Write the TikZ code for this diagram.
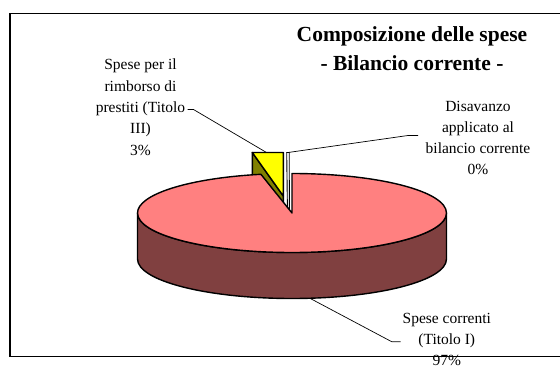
\documentclass[tikz,border=0pt]{standalone}
\usepackage{fontspec}
\setmainfont{Liberation Serif}
\definecolor{piepink}{HTML}{FF8080}
\definecolor{pieside}{HTML}{804040}
\definecolor{wedgeyellow}{HTML}{FFFF00}
\definecolor{wedgeolive}{HTML}{808000}
\begin{document}
\begin{tikzpicture}[x=1pt,y=1pt,
  outline/.style={draw=black,line width=1.4pt,line join=round},
  leader/.style={draw=black,line width=0.7pt},
  lbl/.style={anchor=base,inner sep=0pt,font=\fontsize{15.5}{21.3}\selectfont},
  ttl/.style={anchor=base,inner sep=0pt,font=\fontsize{21.5}{28.3}\selectfont\bfseries}]
\useasboundingbox (0,0) rectangle (560,365);
\fill[white] (0,0) rectangle (560,365);
% frame
\draw[line width=1.2pt] (10,351.7) -- (570,351.7) (10,351.7) -- (10,8.3) -- (570,8.3);
% exploded 3% wedge
\coordinate (wA) at (252.3,212.5);
\coordinate (wB) at (283.3,212.5);
\coordinate (wT) at (283.3,169);
\coordinate (wTop) at (266.5,212.5);
\draw[outline,fill=wedgeolive] (wA) -- (wT) -- (283.3,123) -- (252.3,166.5) -- cycle;
\draw[outline,fill=wedgeyellow] (wA) -- (wB) -- (wT) -- cycle;
% 0% sliver
\coordinate (zTop) at (288,212.5);
\draw[fill=white,draw=black,line width=0.9pt] (286.7,212.5) -- (289.2,212.5) -- (289.4,156) -- (287.4,157.5) -- cycle;
% pie side
\draw[outline,fill=pieside] (137.5,152) -- (137.5,106)
  arc[start angle=180,end angle=360,x radius=154.5,y radius=39.5]
  -- (446.5,152)
  arc[start angle=0,end angle=-180,x radius=154.5,y radius=39.5] -- cycle;
% pie top with notch
\coordinate (pc) at (292,152);
\draw[outline,fill=piepink] (pc) -- (292,191.5)
  arc[start angle=90,end angle=-258.4,x radius=154.5,y radius=39.5] -- cycle;
\coordinate (pBot) at (310.7,66.3);
% title
\node[ttl] (title) at (412,323.3) {\begin{tabular}[t]{@{}c@{}}Composizione delle spese\\- Bilancio corrente -\end{tabular}};
% labels
\node[lbl] (lrimb) at (140.5,295) {\begin{tabular}[t]{@{}c@{}}Spese per il\\rimborso di\\prestiti (Titolo\\III)\\3\%\end{tabular}};
\node[lbl] (ldis) at (478,254) {\begin{tabular}[t]{@{}c@{}}Disavanzo\\applicato al\\bilancio corrente\\0\%\end{tabular}};
\node[lbl] (lcorr) at (446.8,41.7) {\begin{tabular}[t]{@{}c@{}}Spese correnti\\(Titolo I)\\97\%\end{tabular}};
% leader lines
\coordinate (lrA) at (187.5,255.5);
\coordinate (ldA) at (418,229.5);
\coordinate (lcA) at (400.7,23.3);
\draw[leader] (lrA) -- (193.5,255.5) -- (wTop);
\draw[leader] (ldA) -- (408,229.5) -- (zTop);
\draw[leader] (pBot) -- (391.7,23.3) -- (lcA);
\end{tikzpicture}
\end{document}
